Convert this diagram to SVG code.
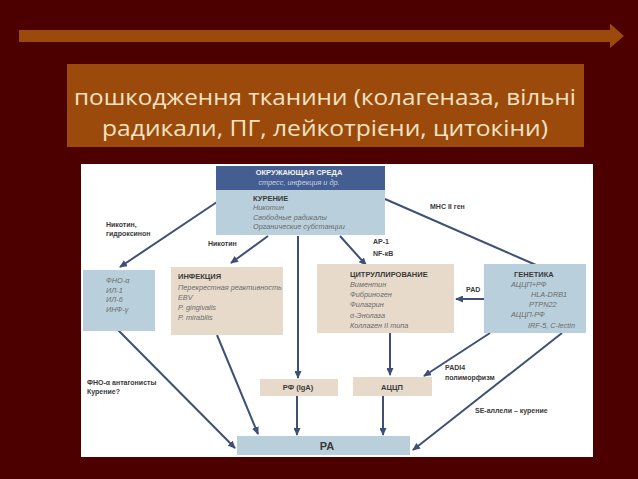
<svg xmlns="http://www.w3.org/2000/svg" width="638" height="479" viewBox="0 0 638 479">
<style>
.box-lb{fill:#B9D0DC}
.box-bg{fill:#E7DACB}
.hd{font-family:"Liberation Sans",Arial,sans-serif;font-weight:bold;font-size:7.5px;fill:#3A3A3A}
.it{font-family:"Liberation Sans",Arial,sans-serif;font-style:italic;font-size:7.3px;fill:#6A6A6A}
.lb{font-family:"Liberation Sans",Arial,sans-serif;font-weight:bold;font-size:7px;fill:#3A3A3A}
.cn{stroke:#3E5075;stroke-width:2;fill:none}
.title{font-family:"Open Sans","Noto Sans",sans-serif;font-size:22.5px;fill:#F3E3C3}
</style>
<defs>
<marker id="ah" markerUnits="userSpaceOnUse" markerWidth="8" markerHeight="7" refX="7" refY="3.5" orient="auto">
<path d="M0,0 L8,3.5 L0,7 z" fill="#3E5075"/>
</marker>
</defs>
<rect x="0" y="0" width="638" height="479" fill="#4C0000"/>
<g id="header-arrow">
<path d="M19,30 L610,30 L610,23.5 L624,36 L610,48 L610,42 L19,42 z" fill="#9B4A0B"/>
</g>
<g id="title">
<rect x="67" y="64" width="517" height="83" fill="#9B4A0B"/>
<text class="title" x="325" y="105" text-anchor="middle" textLength="502" lengthAdjust="spacingAndGlyphs">пошкодження тканини (колагеназа, вільні</text>
<text class="title" x="325" y="136" text-anchor="middle" textLength="446" lengthAdjust="spacingAndGlyphs">радикали, ПГ, лейкотрієни, цитокіни)</text>
</g>
<rect id="panel" x="81" y="164" width="512" height="293" fill="#FFFFFF"/>
<g id="connectors">
<line class="cn" x1="217" y1="202" x2="120" y2="267" marker-end="url(#ah)"/>
<line class="cn" x1="268" y1="236" x2="231" y2="263" marker-end="url(#ah)"/>
<line class="cn" x1="298" y1="236" x2="298" y2="378" marker-end="url(#ah)"/>
<line class="cn" x1="340" y1="236" x2="366" y2="265" marker-end="url(#ah)"/>
<line class="cn" x1="385" y1="199" x2="536" y2="265"/>
<line class="cn" x1="484" y1="299" x2="456" y2="299" marker-end="url(#ah)"/>
<line class="cn" x1="118" y1="330" x2="235" y2="448" marker-end="url(#ah)"/>
<line class="cn" x1="217" y1="335" x2="258" y2="434" marker-end="url(#ah)"/>
<line class="cn" x1="297" y1="396" x2="297" y2="435" marker-end="url(#ah)"/>
<line class="cn" x1="390" y1="332" x2="390" y2="375" marker-end="url(#ah)"/>
<line class="cn" x1="383" y1="396" x2="383" y2="435" marker-end="url(#ah)"/>
<line class="cn" x1="490" y1="333" x2="424" y2="376" marker-end="url(#ah)"/>
<line class="cn" x1="562" y1="333" x2="413" y2="450" marker-end="url(#ah)"/>
</g>
<g id="labels">
<text class="lb" x="106" y="227">Никотин,</text>
<text class="lb" x="106" y="236">гидроксинон</text>
<text class="lb" x="208" y="246">Никотин</text>
<text class="lb" x="373" y="244">АР-1</text>
<text class="lb" x="373" y="256">NF-кB</text>
<text class="lb" x="430" y="209">МНС II ген</text>
<text class="lb" x="466" y="292">PAD</text>
<text class="lb" x="445" y="370">PADI4</text>
<text class="lb" x="445" y="380">полиморфизм</text>
<text class="lb" x="87" y="385">ФНО-α антагонисты</text>
<text class="lb" x="87" y="394">Курение?</text>
<text class="lb" x="475" y="413">SE-аллели – курение</text>
</g>
<g id="node-environment">
<rect x="216" y="166" width="169" height="24" fill="#445E91"/>
<text class="hd" x="299" y="175" text-anchor="middle" style="fill:#F2F2F2">ОКРУЖАЮЩАЯ СРЕДА</text>
<text class="it" x="299" y="185" text-anchor="middle" style="fill:#C9D3E6">стресс, инфекция и др.</text>
</g>
<g id="node-smoking">
<rect class="box-lb" x="216" y="190" width="169" height="45"/>
<text class="hd" x="253" y="201">КУРЕНИЕ</text>
<text class="it" x="253" y="210">Никотин</text>
<text class="it" x="253" y="220">Свободные радикалы</text>
<text class="it" x="253" y="229">Органические субстанции</text>
</g>
<g id="node-cytokines">
<rect class="box-lb" x="83" y="270" width="72" height="61"/>
<text class="it" x="106" y="283">ФНО-α</text>
<text class="it" x="106" y="293">ИЛ-1</text>
<text class="it" x="106" y="302">ИЛ-6</text>
<text class="it" x="106" y="312">ИНФ-γ</text>
</g>
<g id="node-infection">
<rect class="box-bg" x="171" y="267" width="112" height="68"/>
<text class="hd" x="178" y="279">ИНФЕКЦИЯ</text>
<text class="it" x="178" y="290">Перекрестная реактивность</text>
<text class="it" x="178" y="300">EBV</text>
<text class="it" x="178" y="310">P. gingivalis</text>
<text class="it" x="178" y="320">P. mirabilis</text>
</g>
<g id="node-citrullination">
<rect class="box-bg" x="317" y="264" width="137" height="69"/>
<text class="hd" x="350" y="277">ЦИТРУЛЛИРОВАНИЕ</text>
<text class="it" x="350" y="287">Виментин</text>
<text class="it" x="350" y="297">Фибриноген</text>
<text class="it" x="350" y="307">Филагрин</text>
<text class="it" x="350" y="318">α-Энолаза</text>
<text class="it" x="350" y="328">Коллаген II типа</text>
</g>
<g id="node-genetics">
<rect class="box-lb" x="484" y="264" width="102" height="69"/>
<text class="hd" x="514" y="277">ГЕНЕТИКА</text>
<text class="it" x="511" y="287">АЦЦП+РФ</text>
<text class="it" x="531" y="297">HLA-DRB1</text>
<text class="it" x="529" y="307">PTPN22</text>
<text class="it" x="511" y="317">АЦЦП-РФ</text>
<text class="it" x="528" y="328">IRF-5, C-lectin</text>
</g>
<g id="node-rf">
<rect class="box-bg" x="260" y="379" width="78" height="17"/>
<text class="hd" x="298" y="390" text-anchor="middle">РФ (IgA)</text>
</g>
<g id="node-accp">
<rect class="box-bg" x="353" y="377" width="79" height="19"/>
<text class="hd" x="392" y="390" text-anchor="middle">АЦЦП</text>
</g>
<g id="node-ra">
<rect class="box-lb" x="237" y="436" width="173" height="19"/>
<text class="hd" x="327" y="450" text-anchor="middle" style="font-size:11px">РА</text>
</g>
</svg>
